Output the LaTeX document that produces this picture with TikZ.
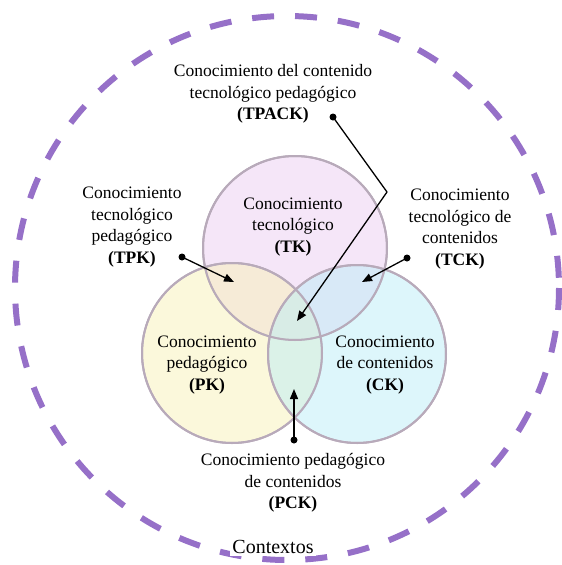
\documentclass[tikz,border=0pt]{standalone}
\usepackage{fontspec}
\setmainfont{Liberation Serif}
\usetikzlibrary{arrows.meta}
\definecolor{lilac}{RGB}{150,112,200}
\definecolor{tkfill}{RGB}{235,205,241}
\definecolor{pkfill}{RGB}{247,241,183}
\definecolor{ckfill}{RGB}{187,237,247}
\definecolor{rim}{RGB}{184,170,186}
\begin{document}
\begin{tikzpicture}[x=1pt,y=-1pt,
    etiq/.style={align=center,font=\fontsize{17.5}{21.5}\selectfont},
    conj/.style={fill opacity=0.5,draw=rim,line width=2pt},
    flecha/.style={line width=1.3pt,-{Triangle[length=10pt,width=8pt]}},
    punto/.style={circle,fill,inner sep=0pt,minimum size=7pt}]
    \useasboundingbox (0,0) rectangle (562,565);
    %contexto
    \draw[lilac,line width=6pt,dash pattern=on 22pt off 21pt] (287,288) circle (272);
    \node[fill=white,inner sep=2pt,font=\fontsize{20}{24}\selectfont] (ctx) at (273,547) {Contextos};
    %circulos
    \filldraw[conj,fill=tkfill] (295,248) circle (92);
    \filldraw[conj,fill=pkfill] (232,353) circle (90);
    \filldraw[conj,fill=ckfill] (357,354) circle (89);
    \draw[rim,line width=2pt] (295,248) circle (92) (232,353) circle (90) (357,354) circle (89);
    %etiquetas
    \node[etiq] (tk) at (293,227) {Conocimiento\\tecnológico\\\textbf{(TK)}};
    \node[etiq] (pk) at (207,365) {Conocimiento\\pedagógico\\\textbf{(PK)}};
    \node[etiq] (ck) at (385,365) {Conocimiento\\de contenidos\\\textbf{(CK)}};
    \node[etiq] (tpack) at (273,94) {Conocimiento del contenido\\tecnológico pedagógico\\\textbf{(TPACK)}};
    \node[etiq] (tpk) at (132,227) {Conocimiento\\tecnológico\\pedagógico\\\textbf{(TPK)}};
    \node[etiq] (tck) at (460,229) {Conocimiento\\tecnológico de\\contenidos\\\textbf{(TCK)}};
    \node[etiq] (pck) at (293,483) {Conocimiento pedagógico\\de contenidos\\\textbf{(PCK)}};
    %flechas
    \node[punto] (p1) at (333,117) {};
    \coordinate (codo) at (387,192);
    \coordinate (c1) at (297,321);
    \draw[line width=1.3pt] (p1.center) -- (codo);
    \draw[flecha] (codo) -- (c1);
    \node[punto] (p2) at (182,257) {};
    \coordinate (c2) at (234,282);
    \draw[flecha] (p2.center) -- (c2);
    \node[punto] (p3) at (407,258) {};
    \coordinate (c3) at (362,282);
    \draw[flecha] (p3.center) -- (c3);
    \node[punto] (p4) at (294,440) {};
    \coordinate (c4) at (294,389);
    \draw[flecha] (p4.center) -- (c4);
\end{tikzpicture}
\end{document}
